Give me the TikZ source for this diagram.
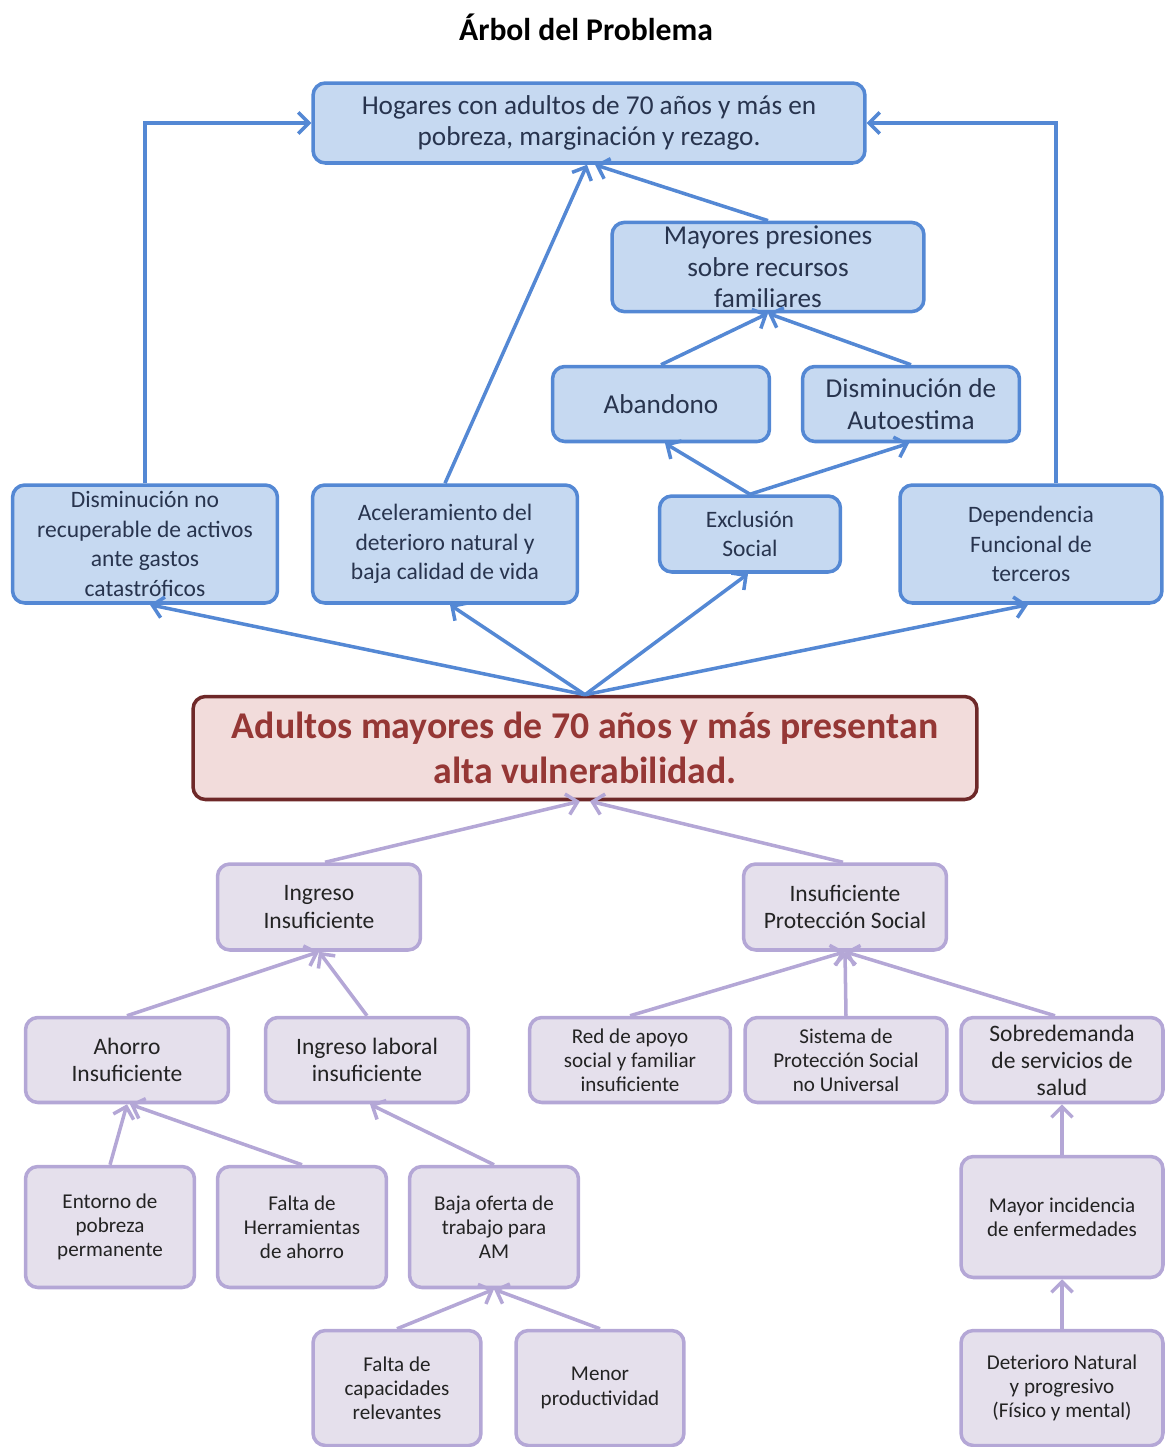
\documentclass[tikz,border=0pt]{standalone}
\usepackage{fontspec}
\setmainfont{Carlito}
\usetikzlibrary{arrows.meta,calc}

\definecolor{blueline}{RGB}{84,136,212}
\definecolor{bluefill}{RGB}{198,217,241}
\definecolor{bluetext}{RGB}{40,52,78}
\definecolor{purpline}{RGB}{180,167,214}
\definecolor{purpfill}{RGB}{229,224,236}
\definecolor{purptext}{RGB}{35,35,35}
\definecolor{redline}{RGB}{110,40,40}
\definecolor{redfill}{RGB}{242,220,219}
\definecolor{redtext}{RGB}{149,55,53}

\tikzset{
  effect/.style={draw=blueline, fill=bluefill, line width=2pt, rounded corners=7pt,
    text=bluetext, align=center, inner sep=2pt, font=\fontsize{13.4}{16.8}\selectfont},
  bigeffect/.style={effect, font=\fontsize{15.5}{18}\selectfont},
  cause/.style={draw=purpline, fill=purpfill, line width=2pt, rounded corners=7pt,
    text=purptext, align=center, inner sep=2pt, font=\fontsize{13.4}{15.4}\selectfont},
  smallcause/.style={cause, font=\fontsize{12}{13.8}\selectfont},
  problem/.style={draw=redline, fill=redfill, line width=2pt, rounded corners=7pt,
    text=redtext, align=center, inner sep=2pt, font=\fontsize{21.5}{25.5}\selectfont\bfseries},
  upblue/.style={draw=blueline, line width=2pt, -{Straight Barb[length=6pt,width=12pt,line width=2pt]}},
  uppurp/.style={draw=purpline, line width=2pt, -{Straight Barb[length=6pt,width=12pt,line width=2pt]}}
}

\begin{document}
\begin{tikzpicture}[x=0.02cm, y=-0.02cm]
    \useasboundingbox (0,0) rectangle (1165,1447);

    % Title
    \node [font=\fontsize{18}{21}\selectfont\bfseries] (title) at (586,27) {Árbol del Problema};

    % Effects (top)
    \node [bigeffect, minimum width=11.04cm, minimum height=1.6cm] (hog) at (589,123)
        {Hogares con adultos de 70 años y más en\\pobreza, marginación y rezago.};
    \node [bigeffect, minimum width=6.24cm, minimum height=1.76cm] (may) at (768,267)
        {Mayores presiones\\sobre recursos\\familiares};
    \node [bigeffect, minimum width=4.34cm, minimum height=1.5cm] (aban) at (661,404) {Abandono};
    \node [bigeffect, minimum width=4.34cm, minimum height=1.5cm] (auto) at (911,404)
        {Disminución de\\Autoestima};
    \node [effect, minimum width=5.3cm, minimum height=2.36cm] (dism) at (145,544)
        {Disminución no\\recuperable de activos\\ante gastos\\catastróficos};
    \node [effect, minimum width=5.3cm, minimum height=2.36cm] (acel) at (445,544)
        {Aceleramiento del\\deterioro natural y\\baja calidad de vida};
    \node [effect, minimum width=3.62cm, minimum height=1.52cm] (excl) at (750,534)
        {Exclusión\\Social};
    \node [effect, minimum width=5.24cm, minimum height=2.36cm] (depe) at (1031,544)
        {Dependencia\\Funcional de\\terceros};

    % Central problem
    \node [problem, minimum width=15.68cm, minimum height=2.06cm] (main) at (585,748)
        {Adultos mayores de 70 años y más presentan\\alta vulnerabilidad.};

    % Causes (bottom)
    \node [cause, minimum width=4.06cm, minimum height=1.72cm] (ingr) at (319,907)
        {Ingreso\\Insuficiente};
    \node [cause, minimum width=4.06cm, minimum height=1.72cm] (prot) at (845,907)
        {Insuficiente\\Protección Social};
    \node [cause, minimum width=4.06cm, minimum height=1.7cm] (ahor) at (127,1060)
        {Ahorro\\Insuficiente};
    \node [cause, minimum width=4.06cm, minimum height=1.7cm] (labo) at (367,1060)
        {Ingreso laboral\\insuficiente};
    \node [smallcause, minimum width=4.02cm, minimum height=1.7cm] (red) at (630,1060)
        {Red de apoyo\\social y familiar\\insuficiente};
    \node [smallcause, minimum width=4.04cm, minimum height=1.7cm] (sist) at (846,1060)
        {Sistema de\\Protección Social\\no Universal};
    \node [cause, minimum width=4.04cm, minimum height=1.7cm] (sobr) at (1062,1060)
        {Sobredemanda\\de servicios de\\salud};
    \node [smallcause, minimum width=3.38cm, minimum height=2.42cm] (ento) at (110,1227)
        {Entorno de\\pobreza\\permanente};
    \node [smallcause, minimum width=3.38cm, minimum height=2.42cm] (falt) at (302,1227)
        {Falta de\\Herramientas\\de ahorro};
    \node [smallcause, minimum width=3.38cm, minimum height=2.42cm] (baja) at (494,1227)
        {Baja oferta de\\trabajo para\\AM};
    \node [smallcause, minimum width=4.04cm, minimum height=2.42cm] (mayi) at (1062,1217)
        {Mayor incidencia\\de enfermedades};
    \node [smallcause, minimum width=3.36cm, minimum height=2.3cm] (fcap) at (397,1388)
        {Falta de\\capacidades\\relevantes};
    \node [smallcause, minimum width=3.36cm, minimum height=2.3cm] (meno) at (600,1388)
        {Menor\\productividad};
    \node [smallcause, minimum width=4.04cm, minimum height=2.3cm] (dete) at (1062,1388)
        {Deterioro Natural\\y progresivo\\(Físico y mental)};

    % Effect arrows
    \draw [upblue] (dism.north) |- (hog.west);
    \draw [upblue] ($(depe.north)+(25,0)$) |- (hog.east);
    \draw [upblue] (acel.north) -- ($(hog.south)+(-2,0)$);
    \draw [upblue] (may.north) -- ($(hog.south)+(6,0)$);
    \draw [upblue] (aban.north) -- (may.south);
    \draw [upblue] (auto.north) -- (may.south);
    \draw [upblue] (excl.north) -- ($(aban.south)+(4,0)$);
    \draw [upblue] (excl.north) -- ($(auto.south)+(-2,0)$);
    \draw [upblue] (main.north) -- ($(dism.south)+(5,0)$);
    \draw [upblue] (main.north) -- ($(acel.south)+(5,0)$);
    \draw [upblue] (main.north) -- ($(excl.south)+(-2,0)$);
    \draw [upblue] (main.north) -- ($(depe.south)+(-3,0)$);

    % Cause arrows
    \draw [uppurp] ($(ingr.north)+(6,0)$) -- ($(main.south)+(-5,0)$);
    \draw [uppurp] ($(prot.north)+(-2,0)$) -- ($(main.south)+(5,0)$);
    \draw [uppurp] (ahor.north) -- (ingr.south);
    \draw [uppurp] (labo.north) -- (ingr.south);
    \draw [uppurp] (red.north) -- (prot.south);
    \draw [uppurp] (sist.north) -- (prot.south);
    \draw [uppurp] ($(sobr.north)+(-7,0)$) -- (prot.south);
    \draw [uppurp] (ento.north) -- (ahor.south);
    \draw [uppurp] (falt.north) -- ($(ahor.south)+(3,0)$);
    \draw [uppurp] (baja.north) -- ($(labo.south)+(3,0)$);
    \draw [uppurp] (fcap.north) -- (baja.south);
    \draw [uppurp] (meno.north) -- (baja.south);
    \draw [uppurp] (mayi.north) -- (sobr.south);
    \draw [uppurp] (dete.north) -- (mayi.south);
\end{tikzpicture}
\end{document}
